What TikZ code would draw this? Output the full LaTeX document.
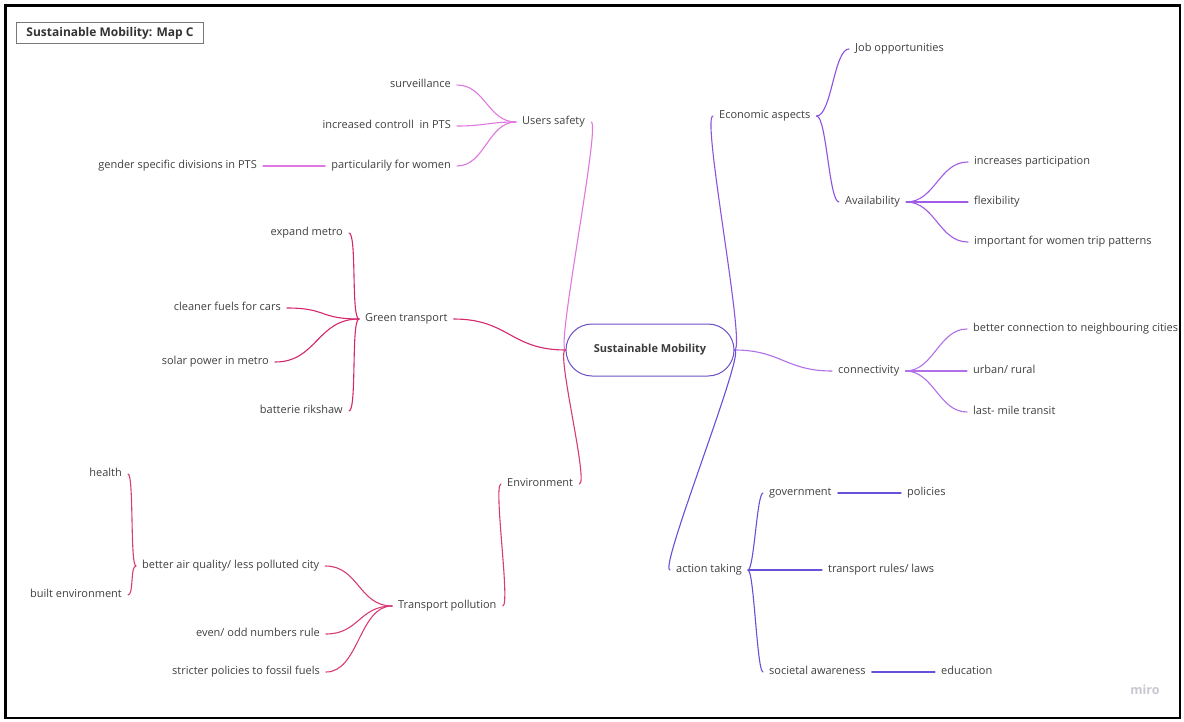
\documentclass[tikz,border=0pt]{standalone}
\usepackage{fontspec}
\setmainfont{Open Sans}
\begin{document}
\definecolor{txtgray}{RGB}{64,64,64}
\definecolor{orchidL}{RGB}{224,120,224}
\definecolor{crimsonL}{RGB}{212,40,110}
\definecolor{roseL}{RGB}{216,60,120}
\definecolor{purpleL}{RGB}{140,82,224}
\definecolor{violetL}{RGB}{160,92,230}
\definecolor{lavL}{RGB}{178,112,232}
\definecolor{indigoL}{RGB}{104,80,216}
\definecolor{hubline}{RGB}{110,80,200}
% curved connector leaving its parent to the left / to the right
\newcommand{\linkL}[4]{\draw[#1] (#2) .. controls +(-#4,0) and +(#4,0) .. (#3);}
\newcommand{\linkR}[4]{\draw[#1] (#2) .. controls +(#4,0) and +(-#4,0) .. (#3);}
\begin{tikzpicture}[x=1pt,y=-1pt,
  txt/.style={font=\fontsize{11}{13}\selectfont, text=txtgray, inner xsep=6pt, inner ysep=0pt,
              text height=8pt, text depth=2.5pt},
  lf/.style={txt, anchor=east},
  rt/.style={txt, anchor=west},
  lnk/.style={line width=1.1pt, line cap=round}]
\useasboundingbox (0,0) rectangle (1184,722);
\fill[white] (0,0) rectangle (1184,722);
\draw[black, line width=2.2pt] (5.5,5.5) rectangle (1180,718);

% title
\node[draw={rgb,255:red,120;green,120;blue,120}, line width=0.9pt, anchor=north west,
      minimum width=187pt, minimum height=21pt, inner sep=0pt,
      font=\fontsize{12}{14}\selectfont\bfseries, text={rgb,255:red,51;green,51;blue,51}]
      (title) at (16,22) {Sustainable Mobility: Map C};

% central topic
\node[draw=hubline, line width=1pt, rounded corners=26pt, minimum width=168pt, minimum height=52pt,
      inner sep=0pt, font=\fontsize{11}{13}\selectfont\bfseries, text={rgb,255:red,60;green,60;blue,60}]
      (hub) at (650,350) {Sustainable Mobility};

% ---- left side: users safety
\node[rt] (users) at (516,122) {Users safety};
\node[lf] (surv) at (457,85) {surveillance};
\node[lf] (incr) at (457,126) {increased controll\ \ in PTS};
\node[lf] (part) at (457,166) {particularily for women};
\node[lf] (gender) at (263,166) {gender specific divisions in PTS};

% ---- left side: green transport
\node[rt] (green) at (359,319) {Green transport};
\node[lf] (expand) at (349,233) {expand metro};
\node[lf] (cleaner) at (287,308) {cleaner fuels for cars};
\node[lf] (solar) at (275,362) {solar power in metro};
\node[lf] (batt) at (349,411) {batterie rikshaw};

% ---- left side: environment
\node[rt] (env) at (501,484) {Environment};
\node[rt] (tp) at (392,606) {Transport pollution};
\node[rt] (air) at (136,566) {better air quality/ less polluted city};
\node[lf] (health) at (128,474) {health};
\node[lf] (built) at (128,595) {built environment};
\node[lf] (even) at (326,634) {even/ odd numbers rule};
\node[lf] (strict) at (326,672) {stricter policies to fossil fuels};

% ---- right side: economic aspects
\node[rt] (econ) at (713,116) {Economic aspects};
\node[rt] (job) at (849,49) {Job opportunities};
\node[rt] (avail) at (839,202) {Availability};
\node[rt] (incp) at (968,162) {increases participation};
\node[rt] (flex) at (968,202) {flexibility};
\node[rt] (imp) at (968,242) {important for women trip patterns};

% ---- right side: connectivity
\node[rt] (conn) at (832,371) {connectivity};
\node[rt] (bc) at (967,329) {better connection to neighbouring cities};
\node[rt] (ur) at (967,371) {urban/ rural};
\node[rt] (lm) at (967,412) {last- mile transit};

% ---- right side: action taking
\node[rt] (action) at (670,570) {action taking};
\node[rt] (gov) at (763,493) {government};
\node[rt] (pol) at (901,493) {policies};
\node[rt] (trl) at (822,570) {transport rules/ laws};
\node[rt] (soc) at (763,672) {societal awareness};
\node[rt] (edu) at (935,672) {education};

% watermark
\node[font=\fontsize{12.5}{14}\selectfont\bfseries, text={rgb,255:red,200;green,200;blue,208}]
      (wm) at (1145,690) {miro};

% ---- connectors, left
\linkL{lnk,orchidL}{hub.west}{users.east}{10}
\linkL{lnk,crimsonL}{hub.west}{green.east}{55}
\linkL{lnk,roseL}{hub.west}{env.east}{10}

\linkL{lnk,orchidL}{users.west}{surv.east}{28}
\linkL{lnk,orchidL}{users.west}{incr.east}{28}
\linkL{lnk,orchidL}{users.west}{part.east}{28}
\draw[lnk,orchidL] (part.west) -- (gender.east);

\linkL{lnk,crimsonL}{green.west}{expand.east}{8}
\linkL{lnk,crimsonL}{green.west}{cleaner.east}{40}
\linkL{lnk,crimsonL}{green.west}{solar.east}{42}
\linkL{lnk,crimsonL}{green.west}{batt.east}{8}

\linkL{lnk,roseL}{env.west}{tp.east}{8}
\linkL{lnk,roseL}{tp.west}{air.east}{33}
\linkL{lnk,roseL}{tp.west}{even.east}{33}
\linkL{lnk,roseL}{tp.west}{strict.east}{33}
\linkL{lnk,roseL}{air.west}{health.east}{6}
\linkL{lnk,roseL}{air.west}{built.east}{6}

% ---- connectors, right
\linkR{lnk,purpleL}{hub.east}{econ.west}{12}
\linkR{lnk,lavL}{hub.east}{conn.west}{46}
\linkR{lnk,indigoL}{hub.east}{action.west}{12}

\linkR{lnk,purpleL}{econ.east}{job.west}{15}
\linkR{lnk,purpleL}{econ.east}{avail.west}{10}
\linkR{lnk,violetL}{avail.east}{incp.west}{29}
\draw[lnk,violetL] (avail.east) -- (flex.west);
\linkR{lnk,violetL}{avail.east}{imp.west}{29}

\linkR{lnk,lavL}{conn.east}{bc.west}{28}
\draw[lnk,lavL] (conn.east) -- (ur.west);
\linkR{lnk,lavL}{conn.east}{lm.west}{28}

\linkR{lnk,indigoL}{action.east}{gov.west}{6}
\draw[lnk,indigoL] (action.east) -- (trl.west);
\linkR{lnk,indigoL}{action.east}{soc.west}{6}
\draw[lnk,indigoL] (gov.east) -- (pol.west);
\draw[lnk,indigoL] (soc.east) -- (edu.west);
\end{tikzpicture}
\end{document}
